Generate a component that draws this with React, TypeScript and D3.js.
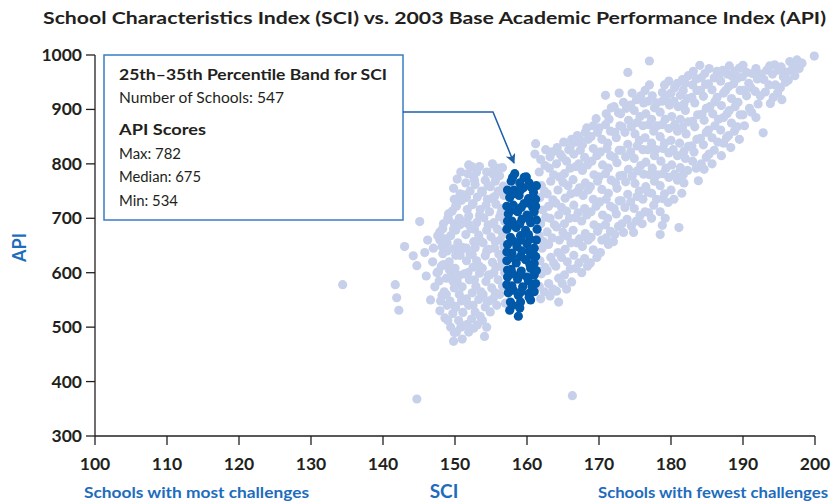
import React from "react";
import * as d3 from "d3";

const title = "School Characteristics Index (SCI) vs. 2003 Base Academic Performance Index (API)";
const xTicks = [100, 110, 120, 130, 140, 150, 160, 170, 180, 190, 200];
const yTicks = [300, 400, 500, 600, 700, 800, 900, 1000];

const outliers: [number, number][] = [
  [134.4, 578], [141.7, 578], [141.9, 554], [142.2, 531], [144.7, 368], [166.3, 374], [145.1, 694],
];

const leftCluster: [number, number][] = [
  [143.0,648],[144.2,631],[144.7,613],[145.8,637],[146.2,660],[146.0,594],[146.6,550],[146.9,620],
  [147.2,574],[147.5,600],[147.0,645],[147.6,668],
  [147.9,530],[148.2,558],[147.8,585],[148.1,612],[148.3,635],[147.9,660],[148.4,690],
  [148.6,517],[148.9,540],[148.5,565],[148.8,590],[148.4,615],[148.9,640],[148.6,662],[148.3,681],[149.1,708],
  [149.8,474],[149.4,500],[149.7,525],[149.3,548],[149.9,572],[149.5,596],[149.2,620],[149.8,644],[149.4,668],[149.9,690],[149.1,698],[149.6,713],[149.9,735],
  [150.2,491],[150.5,512],[150.1,536],[150.6,560],[150.3,584],[150.0,608],[150.7,632],[150.4,655],[150.1,678],[150.6,700],[150.2,722],[150.7,745],[150.3,772],
  [151.0,478],[151.4,503],[151.1,527],[151.5,550],[151.0,574],[151.3,598],[151.6,622],[151.1,646],[151.5,670],[151.2,693],[151.7,716],[151.2,743],[151.5,765],[151.9,798],
  [151.9,491],[152.3,515],[151.9,540],[152.4,563],[152.0,587],[152.5,610],[152.1,634],[152.6,657],[152.2,681],[151.9,704],[152.5,727],[152.1,750],[152.6,775],
  [153.1,504],[152.8,528],[153.3,551],[152.9,575],[153.4,599],[153.0,622],[152.8,646],[153.3,669],[153.0,692],[153.5,716],[153.1,739],[152.8,762],[153.0,785],
  [154.1,483],[153.8,512],[154.2,537],[153.9,560],[154.3,584],[153.8,608],[154.2,631],[153.9,655],[154.4,678],[154.0,701],[154.3,724],[153.8,748],[154.2,770],[154.4,785],
  [154.9,528],[154.7,548],[155.1,572],[154.8,596],[155.2,619],[154.7,643],[155.0,666],[155.3,689],[154.8,712],[155.1,736],[154.9,758],[155.3,781],[155.2,800],
  [155.8,540],[155.6,563],[156.0,587],[155.7,610],[156.1,634],[155.6,657],[155.9,680],[156.2,703],[155.7,726],[156.0,750],[155.6,768],[156.1,792],
  [157.0,544],[156.6,575],[156.9,600],[156.5,624],[156.8,648],[156.6,671],[156.9,694],[156.5,718],[156.8,742],[156.7,759],[156.6,793],
];

const leftFill: [number, number][] = [
  [148.0,548],[147.7,602],[148.2,648],[147.9,675],
  [149.0,512],[148.8,560],[149.2,606],[148.9,655],[149.0,700],
  [149.9,490],[150.0,538],[149.7,585],[150.1,632],[149.8,680],[150.1,723],[149.8,755],
  [150.8,500],[150.9,548],[150.6,595],[150.9,642],[150.7,688],[150.9,733],[150.8,785],
  [151.7,505],[151.6,552],[151.8,600],[151.6,645],[151.8,690],[151.6,738],[151.8,782],
  [152.6,498],[152.5,540],[152.7,587],[152.4,633],[152.7,680],[152.4,725],[152.7,770],[152.3,795],
  [153.5,520],[153.6,565],[153.4,612],[153.6,658],[153.4,705],[153.7,750],[153.4,795],
  [154.4,500],[154.5,548],[154.6,595],[154.4,640],[154.6,688],[154.5,735],[154.6,760],
  [155.3,552],[155.4,600],[155.5,645],[155.4,692],[155.5,740],[155.4,790],
  [156.2,560],[156.3,612],[156.3,660],[156.4,710],[156.2,778],
];

const rightCluster: [number, number][] = [
  [161.9,552],[161.7,575],[162.0,598],[161.8,622],[162.1,645],[161.7,668],[161.9,690],[162.2,715],[161.8,738],[162.0,760],[161.7,785],[161.9,808],[161.1,818],[161.2,837],
  [163.2,557],[163.0,580],[162.8,604],[163.3,628],[163.0,652],[162.8,675],[163.2,700],[163.0,722],[162.8,745],[163.3,768],[163.1,792],[163.2,813],
  [164.4,546],[164.1,566],[164.4,590],[164.0,612],[164.3,637],[164.5,660],[164.1,684],[164.4,706],[164.0,728],[164.3,752],[164.5,776],[164.1,800],[164.6,818],[164.2,830],
  [165.5,570],[165.2,596],[165.6,620],[165.3,643],[165.6,667],[165.2,690],[165.5,713],[165.3,737],[165.7,760],[165.2,782],[165.5,805],[165.8,826],[166.0,831],
  [166.2,583],[166.8,608],[166.5,632],[166.9,655],[166.4,678],[166.7,701],[166.5,724],[166.9,748],[166.4,771],[166.8,795],[166.5,818],[166.8,840],[167.0,852],
  [167.6,600],[168.0,626],[167.7,648],[168.1,672],[167.6,695],[168.0,718],[167.8,742],[168.1,765],[167.7,788],[168.0,812],[167.7,835],[168.1,858],
  [168.8,618],[169.2,642],[168.9,665],[169.3,688],[168.9,712],[169.2,735],[168.8,758],[169.3,780],[169.0,805],[169.2,828],[168.9,850],[169.2,870],[169.6,883],
  [170.2,637],[170.4,660],[170.0,683],[170.5,706],[170.1,730],[170.4,753],[170.0,776],[170.5,798],[170.2,822],[170.4,845],[170.0,866],[170.9,926],
  [171.3,652],[171.6,676],[171.2,700],[171.6,722],[171.3,746],[171.7,770],[171.3,792],[171.6,815],[171.2,838],[171.6,860],[171.4,882],[171.7,903],
  [172.0,657],[172.7,685],[172.4,708],[172.8,732],[172.5,755],[172.9,778],[172.5,802],[172.8,825],[172.4,848],[172.9,870],[172.7,894],[172.8,930],
  [173.4,674],[173.9,698],[173.6,720],[174.0,744],[173.7,767],[174.1,790],[173.7,813],[174.0,836],[173.6,858],[174.1,880],[173.8,902],[173.4,913],[174.0,968],
  [174.8,674],[175.2,695],[174.9,718],[175.3,740],[175.0,764],[175.3,787],[174.9,810],[175.3,833],[175.0,855],[175.3,876],[174.9,898],[175.2,918],
  [176.0,690],[176.4,712],[176.1,735],[176.5,758],[176.2,781],[176.5,803],[176.1,826],[176.4,848],[176.1,870],[176.5,892],[176.2,912],[176.4,935],
  [177.3,700],[177.6,724],[177.3,746],[177.7,768],[177.4,792],[177.7,815],[177.3,838],[177.6,860],[177.3,882],[177.7,903],[177.4,925],[177.0,989],
  [178.5,670],[178.8,687],[178.5,712],[178.9,736],[178.5,760],[178.9,782],[178.6,805],[178.9,828],[178.5,850],[178.8,872],[178.5,895],[178.8,915],[178.8,931],
  [179.6,729],[180.0,752],[179.7,775],[180.1,798],[179.7,820],[180.0,843],[179.7,865],[180.1,887],[179.8,908],[180.0,930],[179.7,952],
  [181.1,683],[181.5,746],[180.9,770],[181.3,793],[180.9,815],[181.2,838],[180.9,860],[181.3,882],[181.0,905],[181.3,926],[180.9,948],
  [181.8,765],[182.3,788],[182.0,810],[182.4,832],[182.1,855],[182.4,877],[182.0,898],[182.3,920],[182.0,948],[182.4,962],
  [183.8,769],[183.5,792],[183.2,822],[183.6,845],[183.3,868],[183.7,890],[183.3,912],[183.6,935],[183.1,970],[183.5,956],
  [184.6,790],[184.9,812],[184.5,835],[184.9,858],[184.6,880],[184.9,902],[184.5,924],[184.8,946],[184.0,981],[184.7,966],
  [185.7,800],[186.0,825],[185.7,848],[186.1,870],[185.8,892],[186.1,914],[185.7,936],[186.0,958],[186.4,970],
  [187.0,815],[187.3,838],[186.9,862],[187.3,885],[187.0,907],[187.3,930],[186.9,952],[187.2,972],
  [188.3,830],[188.0,852],[188.4,875],[188.1,898],[188.4,920],[188.0,942],[188.4,962],[188.1,980],
  [189.5,845],[189.2,868],[189.6,890],[189.3,913],[189.6,935],[189.2,957],[189.5,976],
  [190.2,870],[190.9,902],[190.5,925],[190.8,948],[190.5,968],[190.0,981],
  [191.8,885],[192.1,910],[191.7,933],[192.0,956],[191.8,975],
  [192.8,857],[193.8,911],[193.1,932],[192.9,955],[193.3,972],
  [194.2,922],[194.5,945],[194.1,965],[194.4,982],
  [195.4,918],[195.2,940],[195.6,960],[195.3,978],
  [196.3,954],[196.7,972],[196.5,988],[196.9,985],
  [197.5,991],[197.8,975],[198.2,985],
  [199.9,998],
];

const rightFill: [number, number][] = [
  [162.4,565],[162.5,610],[162.3,657],[162.6,702],[162.4,750],[162.5,797],[162.6,826],
  [163.6,570],[163.7,618],[163.5,664],[163.8,688],[163.6,734],[163.7,780],[163.5,822],
  [164.9,580],[164.8,628],[165.0,674],[164.8,720],[165.0,766],[164.9,812],[165.1,840],
  [166.0,607],[166.1,655],[165.9,700],[166.1,745],[166.0,792],[166.2,845],
  [167.2,618],[167.3,662],[167.1,710],[167.3,756],[167.2,800],[167.4,825],[167.3,846],
  [168.4,612],[168.5,660],[168.3,706],[168.5,752],[168.4,798],[168.5,845],[168.3,866],
  [169.7,628],[169.8,676],[169.6,722],[169.8,768],[169.7,815],[169.8,858],
  [171.0,664],[170.9,688],[171.0,735],[170.9,782],[171.1,828],[170.9,872],[171.0,892],
  [172.2,670],[172.1,718],[172.3,765],[172.1,812],[172.2,858],[172.1,905],
  [173.2,690],[173.1,732],[173.3,779],[173.1,825],[173.2,868],[173.0,892],
  [174.5,686],[174.4,730],[174.6,777],[174.4,822],[174.5,868],[174.4,908],[174.6,930],
  [175.7,705],[175.6,750],[175.8,797],[175.6,843],[175.7,887],[175.8,925],
  [176.9,710],[176.8,748],[177.0,780],[176.8,826],[176.9,872],[176.8,915],[177.0,945],
  [178.0,735],[178.1,780],[177.9,826],[178.1,870],[178.0,912],
  [179.2,700],[179.1,745],[179.3,792],[179.1,838],[179.2,882],[179.3,922],[179.1,945],
  [180.4,735],[180.5,781],[180.3,826],[180.5,872],[180.4,915],[180.5,940],
  [181.7,780],[181.8,823],[181.6,867],[181.8,910],[181.7,935],[181.6,955],
  [183.0,805],[182.9,833],[183.0,878],[182.9,922],[183.0,945],
  [184.2,800],[184.1,847],[184.3,891],[184.1,935],[184.2,958],
  [185.3,818],[185.2,862],[185.4,905],[185.2,947],[185.3,975],
  [186.5,840],[186.6,882],[186.4,922],[186.6,962],
  [187.7,848],[187.8,892],[187.6,935],[187.8,965],
  [188.8,860],[188.9,905],[188.7,947],[188.9,970],
  [190.0,890],[190.1,935],[189.9,960],
  [191.2,895],[191.1,940],[191.3,966],
  [192.4,925],[192.5,965],
  [193.6,945],[193.7,980],
  [194.8,930],[194.9,972],
  [195.9,950],[196.0,968],
  [197.2,962],[197.1,985],
];

const bandSchools: [number, number][] = [
  [158.3,782],[159.6,775],[159.9,776],
  [157.8,768],[159.0,765],[160.6,757],
  [158.2,752],[159.5,756],[160.9,748],
  [157.6,738],[158.9,742],[160.2,736],[161.2,735],
  [158.1,724],[159.6,727],[160.8,720],
  [157.4,708],[158.7,712],[160.0,706],[161.0,712],
  [157.9,695],[159.3,698],[160.5,692],
  [157.2,680],[158.5,683],[159.8,678],[161.4,680],
  [157.7,665],[159.1,668],[160.4,662],
  [157.3,652],[158.6,648],[160.0,653],[161.0,645],
  [157.9,636],[159.3,640],[160.6,632],
  [157.2,622],[158.5,618],[159.8,624],[161.0,617],
  [157.8,606],[159.2,603],[160.5,608],
  [157.3,592],[158.7,588],[160.0,592],[161.0,596],
  [157.9,576],[159.4,574],[160.7,574],
  [157.4,563],[158.8,558],[160.3,555],[161.0,565],
  [157.7,546],[159.1,546],[160.5,550],
  [157.6,531],[158.8,520],
];

const bandFill: [number, number][] = [
  [158.0,775],[158.1,745],[157.9,715],[158.0,688],[158.1,658],[157.9,628],[158.0,598],[158.1,568],[158.0,540],
  [159.1,752],[159.2,720],[159.0,690],[159.2,660],[159.1,630],[159.0,596],[159.2,565],[159.0,535],
  [160.3,765],[160.2,728],[160.4,698],[160.2,670],[160.3,640],[160.4,615],[160.2,585],[160.3,562],
  [161.3,760],[161.2,722],[161.3,697],[161.3,660],[161.2,630],[161.3,604],[161.2,580],
  [157.3,752],[157.2,722],[157.3,695],[157.2,638],[157.3,605],[157.2,578],
];

const boxLines = [
  { text: "25th\u201335th Percentile Band for SCI", bold: true, y: 80, w: 268 },
  { text: "Number of Schools: 547", bold: false, y: 103, w: 165 },
  { text: "API Scores", bold: true, y: 135, w: 87 },
  { text: "Max: 782", bold: false, y: 159, w: 62 },
  { text: "Median: 675", bold: false, y: 182, w: 82 },
  { text: "Min: 534", bold: false, y: 206, w: 59 },
];

const FONT = "Lato, 'Open Sans', sans-serif";
const LIGHT = "#c7d0ea";
const DARK = "#0058a8";
const BLUE = "#1d6cbd";
const INK = "#231f20";

export default function App() {
  const x = d3.scaleLinear().domain([100, 200]).range([95, 815]);
  const y = d3.scaleLinear().domain([300, 1000]).range([436, 55]);
  const light = [...outliers, ...leftCluster, ...leftFill, ...rightCluster, ...rightFill];
  const dark = [...bandSchools, ...bandFill];
  const r = 4.6;
  return (
    <svg width={836} height={503} style={{ position: "fixed", left: 0, top: 0, background: "#fff" }}>
      <defs>
        <marker id="ah" viewBox="0 0 10 10" refX="9" refY="5" markerWidth="10" markerHeight="10" markerUnits="userSpaceOnUse" orient="auto">
          <path d="M0,0 L10,5 L0,10 L2.5,5 Z" fill="#1f5fa8" />
        </marker>
      </defs>
      <text x={43} y={24} textLength={783} lengthAdjust="spacingAndGlyphs" fontFamily={FONT} fontWeight="bold" fontSize={17.5} fill={INK}>{title}</text>

      {light.map((d, i) => (
        <circle key={"l" + i} cx={x(d[0])} cy={y(d[1])} r={r} fill={LIGHT} />
      ))}
      {dark.map((d, i) => (
        <circle key={"d" + i} cx={x(d[0])} cy={y(d[1])} r={r} fill={DARK} />
      ))}

      {/* axes */}
      <line x1={x(100)} x2={x(100)} y1={y(1000)} y2={y(300)} stroke={INK} strokeWidth={1.3} />
      <line x1={x(100)} x2={x(200)} y1={y(300)} y2={y(300)} stroke={INK} strokeWidth={1.3} />
      {yTicks.map((t) => (
        <g key={"yt" + t}>
          <line x1={x(100) - 9} x2={x(100)} y1={y(t)} y2={y(t)} stroke={INK} strokeWidth={1.3} />
          <text x={x(100) - 13} y={y(t) + 6} textAnchor="end" fontFamily={FONT} fontWeight="bold" fontSize={17.5} fill={INK}>{t}</text>
        </g>
      ))}
      {xTicks.map((t) => (
        <g key={"xt" + t}>
          <line x1={x(t)} x2={x(t)} y1={y(300)} y2={y(300) + 9} stroke={INK} strokeWidth={1.3} />
          <text x={x(t)} y={y(300) + 34} textAnchor="middle" fontFamily={FONT} fontWeight="bold" fontSize={17.5} fill={INK}>{t}</text>
        </g>
      ))}
      <text transform={`translate(26,${(y(1000) + y(300)) / 2 + 2}) rotate(-90)`} textAnchor="middle" fontFamily={FONT} fontWeight="bold" fontSize={18} fill={BLUE}>API</text>
      <text x={444} y={498} textAnchor="middle" fontFamily={FONT} fontWeight="bold" fontSize={19} fill={BLUE}>SCI</text>
      <text x={84} y={498} textLength={225} lengthAdjust="spacingAndGlyphs" fontFamily={FONT} fontWeight="bold" fontSize={16} fill={BLUE}>Schools with most challenges</text>
      <text x={598} y={498} textLength={230} lengthAdjust="spacingAndGlyphs" fontFamily={FONT} fontWeight="bold" fontSize={16} fill={BLUE}>Schools with fewest challenges</text>

      {/* annotation box */}
      <rect x={104} y={55} width={299} height={165} fill="#fff" stroke="#3b7cc0" strokeWidth={1.5} />
      {boxLines.map((l, i) => (
        <text key={"b" + i} x={119} y={l.y} textLength={l.w} lengthAdjust="spacingAndGlyphs" fontFamily={FONT} fontWeight={l.bold ? "bold" : "normal"} fontSize={15.5} fill={INK}>{l.text}</text>
      ))}
      <path d="M403,112 H493 L514,163" fill="none" stroke="#1f5fa8" strokeWidth={1.5} markerEnd="url(#ah)" />
    </svg>
  );
}
